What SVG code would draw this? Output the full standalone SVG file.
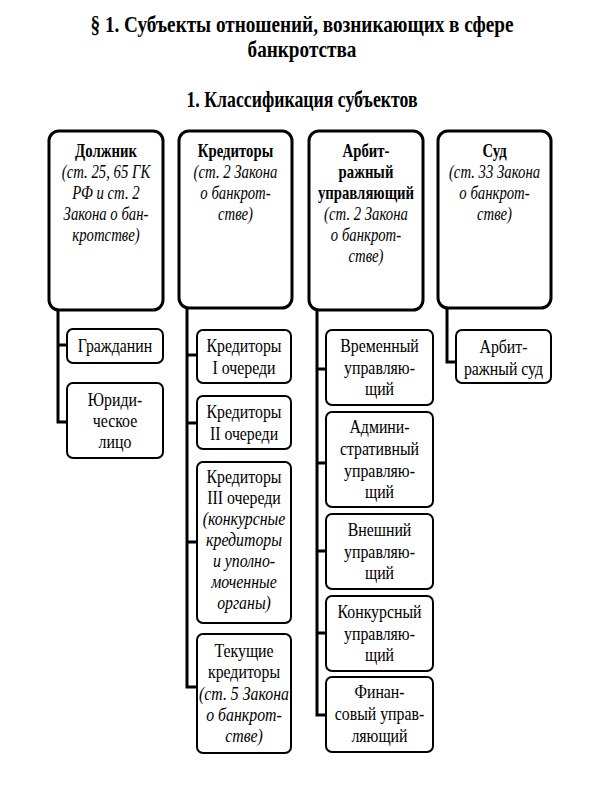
<svg xmlns="http://www.w3.org/2000/svg" width="600" height="800" viewBox="0 0 600 800">
<style>
.big{fill:#fff;stroke:#000;stroke-width:3}
.sm{fill:#fff;stroke:#000;stroke-width:2}
.conn{fill:none;stroke:#000;stroke-width:3}
.t{font-family:'Liberation Serif','DejaVu Serif',serif;font-size:18px;text-anchor:middle;fill:#000}
.b{font-weight:bold}
.i{font-style:italic}
.h{font-family:'Liberation Serif','DejaVu Serif',serif;font-size:24px;font-weight:bold;text-anchor:middle;fill:#000}
</style>
<rect width="600" height="800" fill="#fff"/>
<g id="title">
<g transform="translate(302 0) scale(0.8 1)">
<text class="h" x="0" y="32">§ 1. Субъекты отношений, возникающих в сфере</text>
<text class="h" x="0" y="57">банкротства</text>
</g>
<g transform="translate(302 0) scale(0.74 1)">
<text class="h" x="0" y="107">1. Классификация субъектов</text>
</g>
</g>
<g id="connectors">
<path class="conn" d="M58 310V422H67M58 345H67"/>
<path class="conn" d="M187 308V687H197M187 355H197M187 423H197M187 542H197"/>
<path class="conn" d="M317 310V715H326M317 369H326M317 463H326M317 551H326M317 633H326"/>
<path class="conn" d="M447 308V362H456"/>
</g>
<g id="dolzhnik">
<rect class="big" x="49" y="131" width="114" height="179" rx="10"/>
<g transform="translate(106 0) scale(0.82 1)">
<text class="t b" x="0" y="157">Должник</text>
<text class="t i" x="0" y="178">(ст. 25, 65 ГК</text>
<text class="t i" x="0" y="199">РФ и ст. 2</text>
<text class="t i" x="0" y="220">Закона о бан-</text>
<text class="t i" x="0" y="241">кротстве)</text>
</g>
</g>
<g id="kreditory">
<rect class="big" x="179" y="131" width="113" height="177" rx="10"/>
<g transform="translate(235.5 0) scale(0.82 1)">
<text class="t b" x="0" y="157">Кредиторы</text>
<text class="t i" x="0" y="178">(ст. 2 Закона</text>
<text class="t i" x="0" y="199">о банкрот-</text>
<text class="t i" x="0" y="220">стве)</text>
</g>
</g>
<g id="arbitr">
<rect class="big" x="309" y="131" width="114" height="179" rx="10"/>
<g transform="translate(366 0) scale(0.82 1)">
<text class="t b" x="0" y="157">Арбит-</text>
<text class="t b" x="0" y="178">ражный</text>
<text class="t b" x="0" y="199">управляющий</text>
<text class="t i" x="0" y="220">(ст. 2 Закона</text>
<text class="t i" x="0" y="241">о банкрот-</text>
<text class="t i" x="0" y="262">стве)</text>
</g>
</g>
<g id="sud">
<rect class="big" x="438" y="131" width="113" height="177" rx="10"/>
<g transform="translate(494.5 0) scale(0.82 1)">
<text class="t b" x="0" y="157">Суд</text>
<text class="t i" x="0" y="178">(ст. 33 Закона</text>
<text class="t i" x="0" y="199">о банкрот-</text>
<text class="t i" x="0" y="220">стве)</text>
</g>
</g>
<g id="grazhdanin">
<rect class="sm" x="67" y="329" width="96" height="34" rx="6"/>
<g transform="translate(115 0) scale(0.88 1)"><text class="t" x="0" y="352">Гражданин</text></g>
</g>
<g id="yurlitso">
<rect class="sm" x="67" y="383" width="96" height="75" rx="6"/>
<g transform="translate(115 0) scale(0.88 1)">
<text class="t" x="0" y="406">Юриди-</text>
<text class="t" x="0" y="427">ческое</text>
<text class="t" x="0" y="448">лицо</text>
</g>
</g>
<g id="kred1">
<rect class="sm" x="197" y="330" width="94" height="53" rx="6"/>
<g transform="translate(244 0) scale(0.88 1)">
<text class="t" x="0" y="352">Кредиторы</text>
<text class="t" x="0" y="374">I очереди</text>
</g>
</g>
<g id="kred2">
<rect class="sm" x="197" y="396" width="94" height="53" rx="6"/>
<g transform="translate(244 0) scale(0.88 1)">
<text class="t" x="0" y="418">Кредиторы</text>
<text class="t" x="0" y="440">II очереди</text>
</g>
</g>
<g id="kred3">
<rect class="sm" x="197" y="462" width="94" height="161" rx="6"/>
<g transform="translate(244 0) scale(0.88 1)">
<text class="t" x="0" y="483">Кредиторы</text>
<text class="t" x="0" y="504">III очереди</text>
<text class="t i" x="0" y="525">(конкурсные</text>
<text class="t i" x="0" y="546">кредиторы</text>
<text class="t i" x="0" y="567">и уполно-</text>
<text class="t i" x="0" y="588">моченные</text>
<text class="t i" x="0" y="609">органы)</text>
</g>
</g>
<g id="tekushchie">
<rect class="sm" x="197" y="634" width="94" height="119" rx="6"/>
<g transform="translate(244 0) scale(0.88 1)">
<text class="t" x="0" y="657">Текущие</text>
<text class="t" x="0" y="678">кредиторы</text>
<text class="t i" x="0" y="700">(ст. 5 Закона</text>
<text class="t i" x="0" y="721">о банкрот-</text>
<text class="t i" x="0" y="742">стве)</text>
</g>
</g>
<g id="vremenny">
<rect class="sm" x="326" y="330" width="107" height="75" rx="6"/>
<g transform="translate(379.5 0) scale(0.88 1)">
<text class="t" x="0" y="352">Временный</text>
<text class="t" x="0" y="374">управляю-</text>
<text class="t" x="0" y="395">щий</text>
</g>
</g>
<g id="admin">
<rect class="sm" x="326" y="412" width="107" height="95" rx="6"/>
<g transform="translate(379.5 0) scale(0.88 1)">
<text class="t" x="0" y="433">Админи-</text>
<text class="t" x="0" y="455">стративный</text>
<text class="t" x="0" y="477">управляю-</text>
<text class="t" x="0" y="498">щий</text>
</g>
</g>
<g id="vneshny">
<rect class="sm" x="326" y="514" width="107" height="75" rx="6"/>
<g transform="translate(379.5 0) scale(0.88 1)">
<text class="t" x="0" y="536">Внешний</text>
<text class="t" x="0" y="558">управляю-</text>
<text class="t" x="0" y="579">щий</text>
</g>
</g>
<g id="konkursny">
<rect class="sm" x="326" y="596" width="107" height="75" rx="6"/>
<g transform="translate(379.5 0) scale(0.88 1)">
<text class="t" x="0" y="618">Конкурсный</text>
<text class="t" x="0" y="640">управляю-</text>
<text class="t" x="0" y="661">щий</text>
</g>
</g>
<g id="finansovy">
<rect class="sm" x="326" y="677" width="107" height="75" rx="6"/>
<g transform="translate(379.5 0) scale(0.88 1)">
<text class="t" x="0" y="698">Финан-</text>
<text class="t" x="0" y="720">совый управ-</text>
<text class="t" x="0" y="742">ляющий</text>
</g>
</g>
<g id="arbsud">
<rect class="sm" x="456" y="330" width="95" height="53" rx="6"/>
<g transform="translate(503.5 0) scale(0.88 1)">
<text class="t" x="0" y="353">Арбит-</text>
<text class="t" x="0" y="375">ражный суд</text>
</g>
</g>
</svg>
